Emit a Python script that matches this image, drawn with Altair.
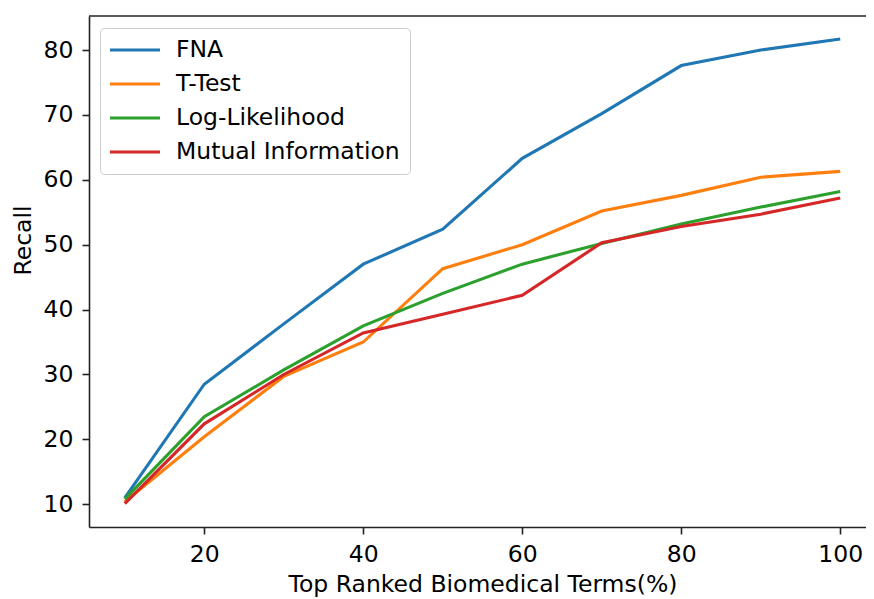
import altair as alt
import pandas as pd

# ---- data ----
x_terms = [10, 20, 30, 40, 50, 60, 70, 80, 90, 100]
fna = [11.0, 28.5, 37.8, 47.0, 52.4, 63.3, 70.2, 77.6, 80.0, 81.7]
t_test = [10.4, 20.4, 29.7, 35.0, 46.3, 50.0, 55.2, 57.6, 60.4, 61.3]
log_likelihood = [10.8, 23.5, 30.7, 37.5, 42.5, 47.0, 50.2, 53.2, 55.8, 58.2]
mutual_info = [10.1, 22.4, 30.0, 36.4, 39.3, 42.2, 50.3, 52.8, 54.7, 57.2]

series_names = ["FNA", "T-Test", "Log-Likelihood", "Mutual Information"]
series_colors = ["#1f77b4", "#ff7f0e", "#2ca02c", "#d62728"]
x_ticks = [20, 40, 60, 80, 100]
y_ticks = [10, 20, 30, 40, 50, 60, 70, 80]

rows = []
for name, vals in zip(series_names, [fna, t_test, log_likelihood, mutual_info]):
    for xv, yv in zip(x_terms, vals):
        rows.append({"terms": xv, "recall": yv, "method": name})
df = pd.DataFrame(rows)

W, H = 777, 511
FONT = "DejaVu Sans"
FS = 23.5
AXC = "#222222"

lines = alt.Chart(df).mark_line(strokeWidth=3.1).encode(
    x=alt.X(
        "terms:Q",
        scale=alt.Scale(domain=[5.5, 103.24], nice=False, zero=False),
        axis=alt.Axis(
            values=x_ticks,
            title="Top Ranked Biomedical Terms(%)",
            grid=False,
            tickSize=7,
            labelPadding=8,
            titleX=393.5,
            titleY=64,
            titleAlign="center",
            titleBaseline="alphabetic",
        ),
    ),
    y=alt.Y(
        "recall:Q",
        scale=alt.Scale(domain=[6.5, 85.24], nice=False, zero=False),
        axis=alt.Axis(
            values=y_ticks,
            title="Recall",
            grid=False,
            tickSize=7,
            labelPadding=9,
            titleAngle=270,
            titleX=-59,
            titleY=224,
            titleAlign="center",
            titleBaseline="alphabetic",
        ),
    ),
    color=alt.Color(
        "method:N",
        scale=alt.Scale(domain=series_names, range=series_colors),
        legend=alt.Legend(
            orient="none",
            legendX=11,
            legendY=12,
            title=None,
            symbolType="M-2.5,0H2.5",
            symbolSize=400,
            symbolStrokeWidth=3.1,
            symbolOffset=13,
            labelFont=FONT,
            labelFontSize=FS,
            labelColor="black",
            labelOffset=29,
            labelLimit=500,
            rowPadding=10,
            padding=10,
            strokeColor="#cccccc",
            fillColor="white",
            cornerRadius=4,
        ),
    ),
)

top_spine = alt.Chart(pd.DataFrame({"k": [0]})).mark_rule(
    color=AXC, strokeWidth=1.6
).encode(x=alt.value(0), x2=alt.value(W), y=alt.value(0))

chart = alt.layer(lines, top_spine).properties(
    width=W,
    height=H,
    padding={"left": 81, "top": 8, "right": 0, "bottom": 70},
    autosize=alt.AutoSizeParams(type="none"),
).configure_view(stroke=None).configure_axis(
    labelFont=FONT,
    labelFontSize=FS,
    labelColor="black",
    titleFont=FONT,
    titleFontSize=FS,
    titleFontWeight="normal",
    titleColor="black",
    domainColor=AXC,
    domainWidth=1.6,
    tickColor=AXC,
    tickWidth=1.6,
)

chart.save("out.html", embed_options={"renderer": "svg", "actions": False})
